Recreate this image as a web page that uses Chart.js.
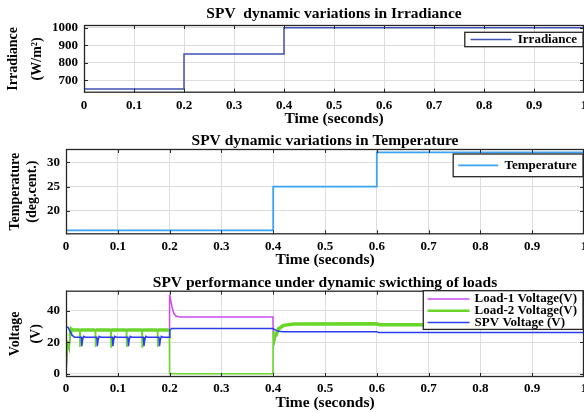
<!DOCTYPE html>
<html>
<head>
<meta charset="utf-8">
<script src="https://cdn.jsdelivr.net/npm/chart.js@4.4.0/dist/chart.umd.min.js"></script>
<style>
html, body { margin: 0; padding: 0; width: 584px; height: 412px; overflow: hidden; background: #fff; }
canvas { position: absolute; left: 0; }
</style>
</head>
<body>
<canvas id="irrChart" width="600" height="128" style="top:0px"></canvas>
<canvas id="tempChart" width="600" height="141" style="top:128px"></canvas>
<canvas id="voltChart" width="600" height="143" style="top:269px"></canvas>
<script>
// shared time axis (seconds)
const xTickValues = [0, 0.1, 0.2, 0.3, 0.4, 0.5, 0.6, 0.7, 0.8, 0.9, 1];
const xTickLabels = ["0", "0.1", "0.2", "0.3", "0.4", "0.5", "0.6", "0.7", "0.8", "0.9", "1"];

// irradiance steps
const irrTime = [0, 0.2, 0.4, 1];
const irrValue = [650, 850, 1000, 1000];
const irrTicks = [700, 800, 900, 1000];

// temperature steps
const tempTime = [0, 0.4, 0.6, 1];
const tempValue = [16, 25, 32, 32];
const tempTicks = [20, 25, 30];

// load / SPV voltages
const voltTicks = [0, 20, 40];

const load1Time = [0, 0.002, 0.004, 0.006, 0.008, 0.010, 0.1995, 0.2, 0.202, 0.205, 0.208, 0.212, 0.22,
  0.3995, 0.4, 0.4012, 0.405, 0.41, 0.42, 0.44, 0.6, 0.605, 1];
const load1Volt = [0, 14, 19, 16, 24, 28, 28, 50.5, 47, 42, 38.5, 36.8, 36.2,
  36.2, 27, 19, 24, 28.5, 30.8, 31.6, 31.8, 31.2, 31.2];

const load2Time = [0, 0.002, 0.004, 0.006, 0.008, 0.010, 0.013,
  0.0265, 0.027, 0.0275, 0.0565, 0.057, 0.0575, 0.0865, 0.087, 0.0875,
  0.1165, 0.117, 0.1175, 0.1465, 0.147, 0.1475, 0.1765, 0.177, 0.1775,
  0.1995, 0.2, 0.3995, 0.4, 0.4012, 0.405, 0.41, 0.42, 0.44, 0.6, 0.605, 1];
const load2Volt = [0, 14, 19, 16, 24, 28.5, 27.8,
  27.8, 17, 27.8, 27.8, 17, 27.8, 27.8, 17, 27.8,
  27.8, 17, 27.8, 27.8, 17, 27.8, 27.8, 17, 27.8,
  27.8, 0, 0, 27, 19, 24, 28.5, 30.8, 31.6, 31.8, 31.2, 31.2];

const spvTime = [0, 0.004, 0.008, 0.012, 0.016,
  0.0295, 0.0305, 0.032, 0.034, 0.037,
  0.0595, 0.0605, 0.062, 0.064, 0.067,
  0.0895, 0.0905, 0.092, 0.094, 0.097,
  0.1195, 0.1205, 0.122, 0.124, 0.127,
  0.1495, 0.1505, 0.152, 0.154, 0.157,
  0.1795, 0.1805, 0.182, 0.184, 0.187,
  0.1995, 0.2005, 0.204, 0.3995, 0.404, 0.41, 0.42, 0.6, 0.603, 1];
const spvVolt = [30, 29.5, 27, 24.5, 23.3,
  23.2, 17.5, 21.5, 23.8, 23.3,
  23.2, 17.5, 21.5, 23.8, 23.3,
  23.2, 17.5, 21.5, 23.8, 23.3,
  23.2, 17.5, 21.5, 23.8, 23.3,
  23.2, 17.5, 21.5, 23.8, 23.3,
  23.2, 17.5, 21.5, 23.8, 23.3,
  23.3, 27.8, 28.8, 28.8, 27.9, 27, 26.8, 26.8, 26.2, 26.2];

const SERIF = '"Liberation Serif", "Times New Roman", serif';
const GRID = "#dedede";
const EDGE = "#262626";

Chart.defaults.font.family = SERIF;
Chart.defaults.font.weight = "bold";
Chart.defaults.color = "#000";

const toXY = (t, v) => t.map((x, i) => ({ x: x, y: v[i] }));

// matlab style box with inward ticks
const boxFrame = {
  id: "boxFrame",
  afterDatasetsDraw(chart) {
    const { ctx, chartArea: a } = chart;
    const x = chart.scales.x, y = chart.scales.y;
    ctx.save();
    ctx.strokeStyle = EDGE;
    ctx.lineWidth = 1.3;
    ctx.strokeRect(a.left + 0.5, a.top + 0.5, a.right - a.left - 1, a.bottom - a.top - 1);
    ctx.lineWidth = 1;
    ctx.beginPath();
    x.ticks.forEach(t => {
      const px = Math.round(x.getPixelForValue(t.value)) + 0.5;
      ctx.moveTo(px, a.bottom); ctx.lineTo(px, a.bottom - 4);
      ctx.moveTo(px, a.top); ctx.lineTo(px, a.top + 4);
    });
    y.ticks.forEach(t => {
      const py = Math.round(y.getPixelForValue(t.value)) + 0.5;
      ctx.moveTo(a.left, py); ctx.lineTo(a.left + 4, py);
      ctx.moveTo(a.right, py); ctx.lineTo(a.right - 4, py);
    });
    ctx.stroke();
    ctx.restore();
  }
};

// boxed legend inside the plot, top right
const boxLegend = {
  id: "boxLegend",
  afterDraw(chart, args, o) {
    const ctx = chart.ctx, a = chart.chartArea;
    const sets = chart.data.datasets;
    ctx.save();
    ctx.font = "bold 13px " + SERIF;
    const textW = Math.max(...sets.map(d => ctx.measureText(d.label).width));
    const w = o.padLeft + o.lineLen + o.gap + textW + o.padRight;
    const h = o.padTop + (sets.length - 1) * o.rowGap + o.padBottom;
    const right = a.right - 1, left = right - w, top = a.top + o.offsetTop;
    ctx.fillStyle = "#fff";
    ctx.fillRect(left, top, w, h);
    ctx.strokeStyle = EDGE;
    ctx.lineWidth = 1.3;
    ctx.strokeRect(left, top, w, h);
    sets.forEach((d, i) => {
      const cy = top + o.padTop + i * o.rowGap;
      ctx.strokeStyle = d.borderColor;
      ctx.lineWidth = Math.min(d.borderWidth, 2.5);
      ctx.beginPath();
      ctx.moveTo(left + o.padLeft, cy);
      ctx.lineTo(left + o.padLeft + o.lineLen, cy);
      ctx.stroke();
      ctx.fillStyle = "#000";
      ctx.textAlign = "left";
      ctx.textBaseline = "middle";
      ctx.fillText(d.label, left + o.padLeft + o.lineLen + o.gap, cy);
    });
    ctx.restore();
  }
};

function xScale(pad, height) {
  return {
    type: "linear", min: 0, max: 1, bounds: "data",
    afterBuildTicks: s => { s.ticks = xTickValues.map(v => ({ value: v })); },
    afterFit: s => { s.height = height; },
    ticks: {
      padding: pad, font: { size: 13 }, autoSkip: false, maxRotation: 0,
      callback: v => xTickLabels[xTickValues.indexOf(v)]
    },
    grid: { color: GRID, drawTicks: false },
    border: { display: false },
    title: { display: true, text: "Time (seconds)", font: { size: 15.5 }, padding: 0 }
  };
}

function yScale(min, max, ticks, width, lines, lineHeight, titlePad) {
  return {
    type: "linear", min: min, max: max, bounds: "data",
    afterBuildTicks: s => { s.ticks = ticks.map(v => ({ value: v })); },
    afterFit: s => { s.width = width; },
    ticks: { padding: 6, font: { size: 13 }, callback: v => String(v) },
    grid: { color: GRID, drawTicks: false },
    border: { display: false },
    title: {
      display: true, text: lines,
      font: { size: 14, lineHeight: lineHeight / 14 },
      padding: { top: titlePad, bottom: 0 }
    }
  };
}

function baseOptions(title, titlePad, xs, ys, legend) {
  return {
    responsive: false,
    animation: false,
    layout: { padding: { left: 0, right: 16, top: 0, bottom: 0 } },
    scales: { x: xs, y: ys },
    plugins: {
      legend: { display: false },
      tooltip: { enabled: false },
      title: {
        display: true, text: title, fullSize: false,
        font: { size: 15.5, lineHeight: 1 },
        padding: titlePad
      },
      boxLegend: legend
    }
  };
}

new Chart(document.getElementById("irrChart"), {
  type: "line",
  data: {
    datasets: [{
      label: "Irradiance",
      data: toXY(irrTime, irrValue),
      borderColor: "#3f51b5", borderWidth: 1.5,
      pointRadius: 0, stepped: true, fill: false
    }]
  },
  options: baseOptions(
    "SPV  dynamic variations in Irradiance", { top: 6.5, bottom: 3 },
    xScale(4.7, 35.3),
    yScale(629, 1015, irrTicks, 84, ["Irradiance", "(W/m\u00B2)"], 24, 1),
    { offsetTop: 7.3, padTop: 7.2, padBottom: 7.2, rowGap: 0, padLeft: 5.7, lineLen: 41, gap: 6.3, padRight: 6 }
  ),
  plugins: [boxFrame, boxLegend]
});

new Chart(document.getElementById("tempChart"), {
  type: "line",
  data: {
    datasets: [{
      label: "Temperature",
      data: toXY(tempTime, tempValue),
      borderColor: "#3ba3f5", borderWidth: 1.8,
      pointRadius: 0, stepped: true, fill: false
    }]
  },
  options: baseOptions(
    "SPV dynamic variations in Temperature", { top: 5.25, bottom: 0.25 },
    xScale(4.9, 34.7),
    yScale(15.2, 32.7, tempTicks, 66, ["Temperature", "(deg.cent.)"], 17, 7.3),
    { offsetTop: 5, padTop: 11.35, padBottom: 11.35, rowGap: 0, padLeft: 5, lineLen: 40, gap: 6.3, padRight: 6.3 }
  ),
  plugins: [boxFrame, boxLegend]
});

new Chart(document.getElementById("voltChart"), {
  type: "line",
  data: {
    datasets: [
      {
        label: "Load-1 Voltage(V)",
        data: toXY(load1Time, load1Volt),
        borderColor: "#c94cf5", borderWidth: 1.5,
        pointRadius: 0, fill: false, order: 2
      },
      {
        label: "Load-2 Voltage(V)",
        data: toXY(load2Time, load2Volt),
        borderColor: "#6ad62a", borderWidth: 3.5,
        pointRadius: 0, fill: false, order: 1,
        // ripple band only where the load is on; thin for transients and zero level
        segment: {
          borderWidth: c => (c.p0.parsed.y >= 24 && c.p1.parsed.y >= 24 ? 3.5 : 1.6)
        }
      },
      {
        label: "SPV Voltage (V)",
        data: toXY(spvTime, spvVolt),
        borderColor: "#2a3cf0", borderWidth: 1.5,
        pointRadius: 0, fill: false, order: 0
      }
    ]
  },
  options: baseOptions(
    "SPV performance under dynamic swicthing of loads", { top: 6.2, bottom: 0 },
    xScale(3.5, 35),
    yScale(-2.1, 52.9, voltTicks, 66, ["Voltage", "(V)"], 21, 5.3),
    { offsetTop: 0, padTop: 8.3, padBottom: 7, rowGap: 11.7, padLeft: 4.3, lineLen: 42, gap: 5, padRight: 6 }
  ),
  plugins: [boxFrame, boxLegend]
});
</script>
</body>
</html>
